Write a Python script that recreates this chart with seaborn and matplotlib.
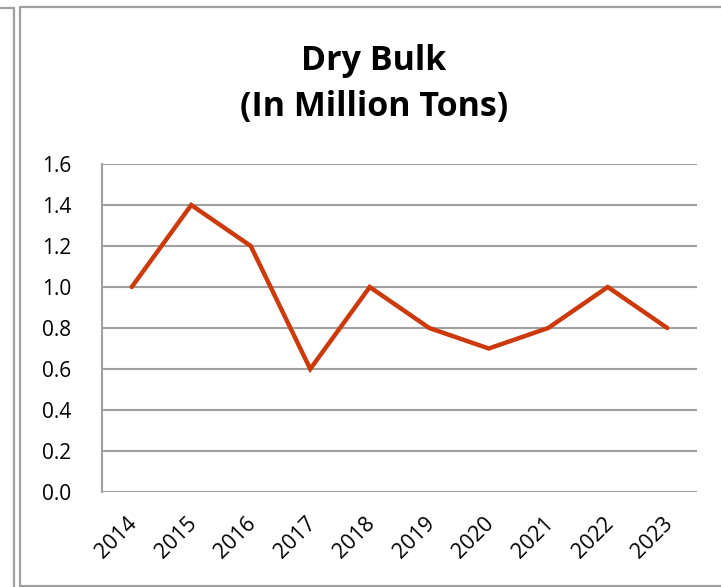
import matplotlib
matplotlib.use("Agg")
import matplotlib.pyplot as plt
import matplotlib.transforms as mtransforms
import seaborn as sns
import pandas as pd
from matplotlib.lines import Line2D

years = ["2014", "2015", "2016", "2017", "2018", "2019", "2020", "2021", "2022", "2023"]
values = [1.0, 1.4, 1.2, 0.6, 1.0, 0.8, 0.7, 0.8, 1.0, 0.8]
yticks = [0.0, 0.2, 0.4, 0.6, 0.8, 1.0, 1.2, 1.4, 1.6]

sns.set_theme(style="white")
plt.rcParams['font.family'] = ['Open Sans', 'DejaVu Sans']

W, H = 721, 587
fig = plt.figure(figsize=(W / 100, H / 100), dpi=100)
fig.patch.set_facecolor("white")

# axes box: left 102, right 697, top 164, bottom 492 (pixels)
ax = fig.add_axes([102 / W, 1 - 492 / H, (697 - 102) / W, (492 - 164) / H])

df = pd.DataFrame({"year": years, "value": values})
df["pos"] = range(len(years))
sns.lineplot(data=df, x="pos", y="value", ax=ax, color="#CC3A0B", linewidth=3.2,
             solid_joinstyle="miter")

ax.set_xlim(-0.5, len(years) - 0.5)
ax.set_ylim(0, 1.6)
ax.set_yticks(yticks)
ax.set_yticklabels([f"{v:.1f}" for v in yticks], fontsize=15, color="black")
ax.set_xticks(range(len(years)))
ax.set_xticklabels(years, rotation=45, ha="right", va="top", rotation_mode="anchor",
                   fontsize=15.5, color="black")
ax.tick_params(axis="x", pad=15, length=0)
ax.tick_params(axis="y", pad=22, length=0)
offset = mtransforms.ScaledTranslation(-5 / 100, 0, fig.dpi_scale_trans)
for lbl in ax.get_xticklabels():
    lbl.set_transform(lbl.get_transform() + offset)
ax.set_xlabel("")
ax.set_ylabel("")
ax.yaxis.grid(True, color="#A0A0A0", linewidth=1.5)
ax.xaxis.grid(False)
for s in ["top", "right", "bottom"]:
    ax.spines[s].set_visible(False)
ax.spines["left"].set_color("#A0A0A0")
ax.spines["left"].set_linewidth(1.5)
ax.set_axisbelow(True)
ax.set_facecolor("white")

fig.text(374 / W, 1 - 84 / H, "Dry Bulk\n(In Million Tons)", ha="center", va="center",
         fontsize=24.5, fontweight="bold", linespacing=1.48, color="black")

gray = "#A0A0A0"
# partial left chart border
fig.add_artist(Line2D([0, 14 / W], [1 - 8 / H, 1 - 8 / H], color=gray, lw=1.6))
fig.add_artist(Line2D([14 / W, 14 / W], [1 - 8 / H, 0], color=gray, lw=1.6))
# main chart border
fig.add_artist(Line2D([20 / W, 20 / W], [1 - 7 / H, 1 - 586 / H], color=gray, lw=1.6))
fig.add_artist(Line2D([20 / W, 1], [1 - 7 / H, 1 - 7 / H], color=gray, lw=1.6))
fig.add_artist(Line2D([20 / W, 1], [1 - 586 / H, 1 - 586 / H], color=gray, lw=1.6))

fig.savefig("out.png", dpi=100, facecolor="white")
